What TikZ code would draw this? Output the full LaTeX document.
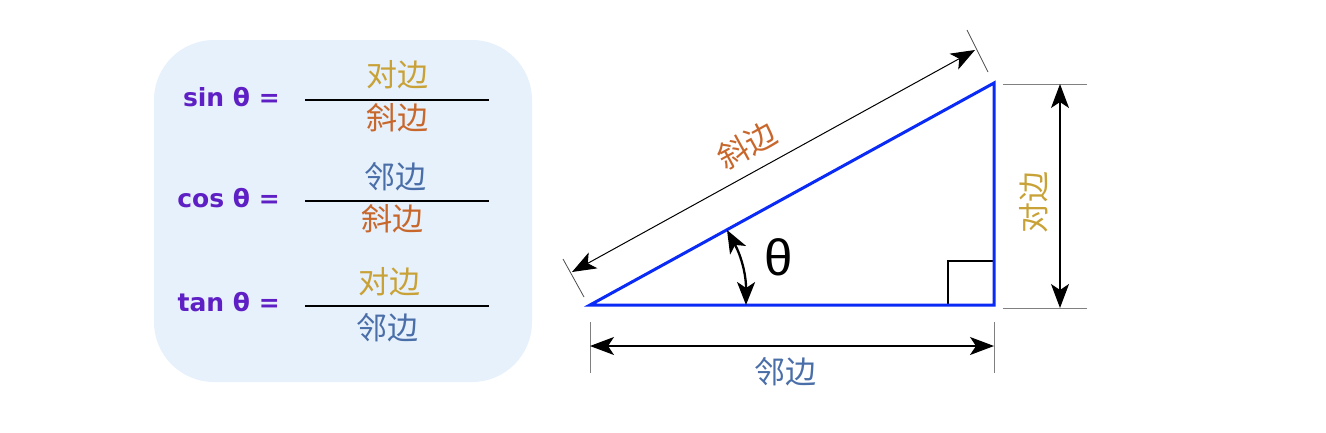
\documentclass[tikz,border=0pt]{standalone}
\usepackage{fontspec}
\usepackage{tikz}
\usetikzlibrary{arrows.meta}
\newfontfamily\cjk{Noto Sans CJK SC}
\newfontfamily\trigfont{DejaVu Sans}
\newfontfamily\thetafont{Liberation Sans}
\definecolor{duibian}{HTML}{C8A236}
\definecolor{xiebian}{HTML}{C8672C}
\definecolor{linbian}{HTML}{4A6EA8}
\definecolor{trigpurple}{HTML}{5E1FC4}
\definecolor{boxfill}{HTML}{E7F1FC}
\definecolor{triblue}{HTML}{0A2AF5}

\begin{document}
\begin{tikzpicture}[x=1pt, y=-1pt,
    word/.style = {font=\cjk\fontsize{31}{33}\selectfont, inner sep=0pt},
    trig/.style = {font=\trigfont\bfseries\fontsize{25}{27}\selectfont, text=trigpurple, anchor=east, inner sep=0pt},
    fracline/.style = {line width=1.3pt},
    extline/.style = {draw=gray, line width=1pt},
    dim/.style = {line width=1.1pt, {Stealth[length=24pt, width=18pt, inset=6pt]}-{Stealth[length=24pt, width=18pt, inset=6pt]}},
    triline/.style = {draw=triblue, line width=3pt},
    anglearrow/.style = {line width=2.3pt, {Stealth[length=23pt, width=18pt, inset=6pt]}-{Stealth[length=23pt, width=18pt, inset=6pt]}}]
    \useasboundingbox (0,0) rectangle (1326,432);

    % formula box
    \fill[boxfill, rounded corners=60pt] (154,40) rectangle (532,382);
    \node[trig] (sin) at (280,97) {sin θ =};
    \node[trig] (cos) at (280,198) {cos θ =};
    \node[trig] (tan) at (280,302) {tan θ =};
    \coordinate (s1) at (305,100); \coordinate (s2) at (489,100);
    \coordinate (c1) at (305,201); \coordinate (c2) at (489,201);
    \coordinate (t1) at (305,306); \coordinate (t2) at (489,306);
    \draw[fracline] (s1) -- (s2);
    \draw[fracline] (c1) -- (c2);
    \draw[fracline] (t1) -- (t2);
    \node[word, text=duibian] (sinnum) at (397,75) {对边};
    \node[word, text=xiebian] (sinden) at (397,118) {斜边};
    \node[word, text=linbian] (cosnum) at (395,177) {邻边};
    \node[word, text=xiebian] (cosden) at (392,219) {斜边};
    \node[word, text=duibian] (tannum) at (389,282) {对边};
    \node[word, text=linbian] (tanden) at (387,328) {邻边};

    % triangle
    \coordinate (A) at (590,305);
    \coordinate (B) at (994,305);
    \coordinate (C) at (994,83);
    \coordinate (r1) at (948,305);
    \coordinate (r2) at (948,261);
    \coordinate (r3) at (994,261);
    \draw[line width=2.4pt] (r1) -- (r2) -- (r3);
    \draw[triline] (A) -- (B) -- (C) -- cycle;
    \coordinate (angb) at (746,305);
    \coordinate (angh) at (727,230);
    \draw[anglearrow] (angb) to[bend right=14.4] (angh);
    \node[font=\thetafont\fontsize{51}{51}\selectfont] (theta) at (779,257) {θ};

    % hypotenuse
    \coordinate (h1) at (572,272);
    \coordinate (h2) at (975,50);
    \coordinate (ha1) at (584,297); \coordinate (ha2) at (563,259);
    \coordinate (hb1) at (988,72); \coordinate (hb2) at (967,30);
    \draw[draw=black!70, line width=0.8pt] (ha1) -- (ha2);
    \draw[draw=black!70, line width=0.8pt] (hb1) -- (hb2);
    \draw[dim, line width=1pt] (h1) -- (h2);
    \node[word, text=xiebian, rotate=28.8] (hyplabel) at (747,145) {斜边};

    % opposite
    \coordinate (va1) at (1003,84); \coordinate (va2) at (1087,84);
    \coordinate (vb1) at (1003,308); \coordinate (vb2) at (1087,308);
    \coordinate (v1) at (1060,84); \coordinate (v2) at (1060,308);
    \draw[extline] (va1) -- (va2);
    \draw[extline] (vb1) -- (vb2);
    \draw[dim] (v1) -- (v2);
    \node[word, text=duibian, rotate=90] (opplabel) at (1034,202) {对边};

    % adjacent
    \coordinate (la1) at (590,322); \coordinate (la2) at (590,373);
    \coordinate (lb1) at (994,322); \coordinate (lb2) at (994,373);
    \coordinate (l1) at (590,346); \coordinate (l2) at (994,346);
    \draw[extline] (la1) -- (la2);
    \draw[extline] (lb1) -- (lb2);
    \draw[dim] (l1) -- (l2);
    \node[word, text=linbian] (adjlabel) at (785,372) {邻边};
\end{tikzpicture}
\end{document}
